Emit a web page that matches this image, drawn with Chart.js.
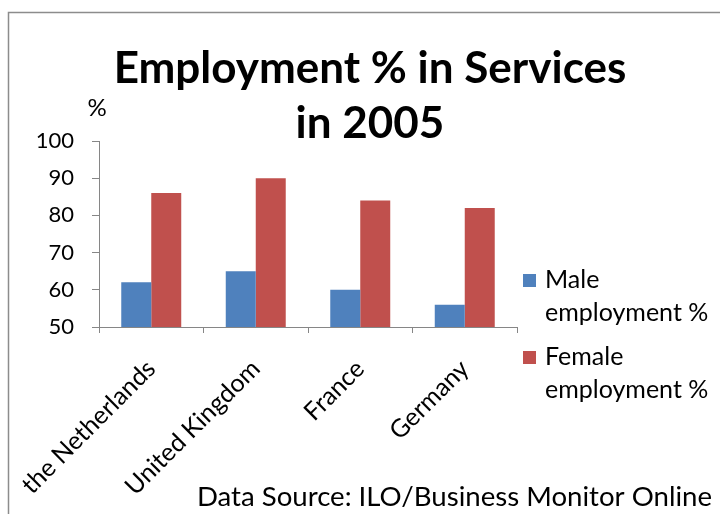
<!DOCTYPE html>
<html>
<head>
<meta charset="utf-8">
<script src="https://cdn.jsdelivr.net/npm/chart.js@4/dist/chart.umd.min.js"></script>
<style>
  html, body { margin: 0; padding: 0; background: #fff; }
  #wrap { width: 720px; height: 514px; }
</style>
</head>
<body>
<div id="wrap"><canvas id="chart" width="720" height="514"></canvas></div>
<script>
const categories = ['the Netherlands', 'United Kingdom', 'France', 'Germany'];
const maleValues = [62, 65, 60, 56];
const femaleValues = [86, 90, 84, 82];
const yTicks = [50, 60, 70, 80, 90, 100];
const titleLines = ['Employment % in Services', 'in 2005'];
const sourceText = 'Data Source: ILO/Business Monitor Online';

const FONT = 'Lato';
const axisGray = '#868686';

// frame, "%" unit label, legend and source line
const decorPlugin = {
  id: 'decor',
  beforeDraw(chart) {
    const ctx = chart.ctx;
    ctx.save();
    ctx.fillStyle = '#fff';
    ctx.fillRect(0, 0, chart.width, chart.height);
    ctx.strokeStyle = '#8c8c8c';
    ctx.lineWidth = 1.5;
    ctx.strokeRect(8.5, 12.5, 900, 700);
    ctx.restore();
  },
  afterDraw(chart) {
    const ctx = chart.ctx;
    ctx.save();
    ctx.fillStyle = '#000';
    ctx.font = '24px ' + FONT;
    ctx.textBaseline = 'middle';
    ctx.textAlign = 'center';
    ctx.fillText('%', 97, 108);

    // legend
    ctx.font = '25px ' + FONT;
    ctx.textAlign = 'left';
    chart.data.datasets.forEach((ds, i) => {
      const y0 = 280 + i * 77;
      const sp = ds.label.indexOf(' ');
      const lines = [ds.label.slice(0, sp), ds.label.slice(sp + 1)];
      ctx.fillStyle = ds.backgroundColor;
      ctx.fillRect(523, y0 - 6, 13, 13);
      ctx.fillStyle = '#000';
      lines.forEach((t, j) => ctx.fillText(t, 545, y0 + j * 33));
    });

    ctx.font = '27.6px ' + FONT;
    ctx.textAlign = 'right';
    ctx.fillText(sourceText, 712, 497);
    ctx.restore();
  }
};

const ctx = document.getElementById('chart').getContext('2d');
new Chart(ctx, {
  type: 'bar',
  data: {
    labels: categories,
    datasets: [
      { label: 'Male employment %', data: maleValues, backgroundColor: '#4F81BD' },
      { label: 'Female employment %', data: femaleValues, backgroundColor: '#C0504D' }
    ]
  },
  options: {
    responsive: false,
    animation: false,
    layout: { padding: { left: 20, right: 0, top: 0, bottom: 0 } },
    datasets: {
      bar: { categoryPercentage: 0.574, barPercentage: 1.0 }
    },
    plugins: {
      legend: { display: false },
      tooltip: { enabled: false },
      title: {
        display: true,
        text: titleLines,
        color: '#000',
        font: { family: FONT, size: 44, weight: 'bold', lineHeight: 1.25 },
        padding: { top: 41, bottom: -10 }
      }
    },
    scales: {
      x: {
        grid: { offset: true, drawOnChartArea: false, color: axisGray, tickLength: 6 },
        border: { color: axisGray },
        ticks: {
          color: '#000',
          font: { family: FONT, size: 25 },
          maxRotation: 45,
          minRotation: 45,
          padding: 21
        },
        afterFit(scale) {
          scale.height = 187;
          scale.paddingLeft = 0;
          scale.paddingRight = 0;
        }
      },
      y: {
        min: 50,
        max: 100,
        grid: { drawOnChartArea: false, color: axisGray, tickLength: 7 },
        border: { color: axisGray },
        ticks: {
          color: '#000',
          font: { family: FONT, size: 22 },
          padding: 18,
          stepSize: 10,
          callback: v => yTicks.includes(v) ? v : ''
        },
        afterFit(scale) { scale.width = 79; }
      },
      // keeps room on the right for the legend
      side: {
        type: 'linear',
        position: 'right',
        grid: { display: false },
        border: { display: false },
        ticks: { display: false },
        afterFit(scale) { scale.width = 203; }
      }
    }
  },
  plugins: [decorPlugin]
});
</script>
</body>
</html>
